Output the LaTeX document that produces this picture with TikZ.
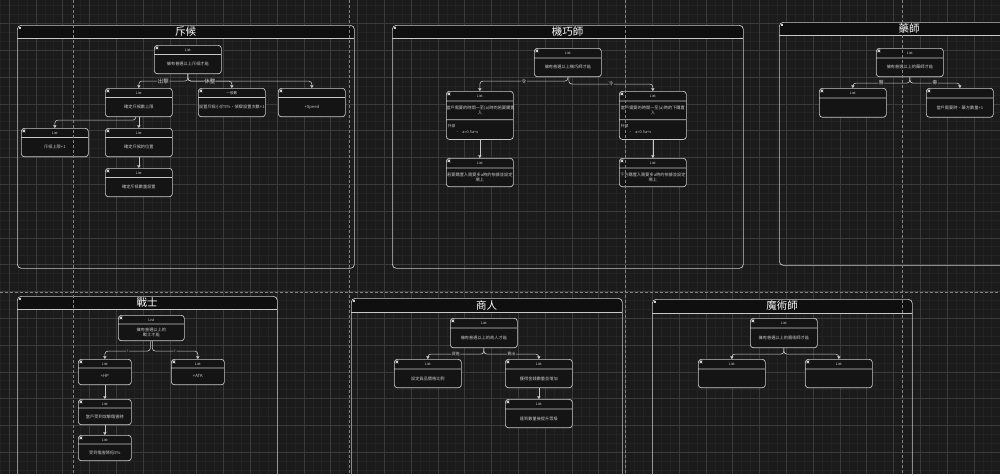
\documentclass[tikz,border=0pt]{standalone}
\usepackage{fontspec}
\setmainfont{Noto Sans CJK TC}
\usetikzlibrary{arrows.meta, positioning, shapes.multipart, calc}

\definecolor{bgc}{RGB}{27,27,27}
\definecolor{gridmaj}{RGB}{58,58,58}
\definecolor{gridmin}{RGB}{35,35,35}
\definecolor{boxbg}{RGB}{20,20,20}
\definecolor{titlebg}{RGB}{15,15,15}
\definecolor{linec}{RGB}{200,200,200}
\definecolor{dashc}{RGB}{130,130,130}

\newcommand{\boxhead}[2][8.5pt]{\parbox[c][#1][c]{\hsize}{\centering\fontsize{3.6}{4}\selectfont #2}}
\newcommand{\boxbody}[2][18.5pt]{\parbox[c][#1][c]{\hsize}{\centering\fontsize{4.2}{5.4}\selectfont #2}}

\begin{document}
\begin{tikzpicture}[x=1pt, y=-1pt,
    outline/.style={draw=linec, line width=0.7pt},
    panel/.style={outline, rounded corners=4pt, inner sep=0, anchor=north west},
    ptitle/.style={text=white, font=\fontsize{10.5}{10.5}\selectfont},
    icon/.style={fill=linec!85},
    box/.style={rectangle split, rectangle split parts=2, outline, fill=boxbg,
        rounded corners=3pt, inner sep=0, text width=67pt, align=center,
        text=linec, anchor=north west,
        path picture={\fill[icon] ([shift={(1.2pt,-1.2pt)}]path picture bounding box.north west) rectangle ++(2.6pt,-2.6pt);}},
    flow/.style={draw=linec, line width=0.6pt, rounded corners=3pt,
        -{Triangle[width=3.2pt,length=2.6pt]}},
    lbl/.style={fill=bgc, inner sep=0.6pt, text=linec, font=\fontsize{5.5}{5.5}\selectfont}
]
    \useasboundingbox (0,0) rectangle (1000,474);
    \clip (0,0) rectangle (1000,474);
    \fill[bgc] (0,0) rectangle (1000,474);

    % grid
    \foreach \i in {0,...,112} \draw[gridmin, line width=0.4pt] ({0.1+8.933*\i},0) -- ({0.1+8.933*\i},474);
    \foreach \i in {0,...,54} \draw[gridmin, line width=0.4pt] (0,{5.5+8.933*\i}) -- (1000,{5.5+8.933*\i});
    \foreach \i in {0,...,37} \draw[gridmaj, line width=0.5pt] ({9+26.8*\i},0) -- ({9+26.8*\i},474);
    \foreach \i in {0,...,18} \draw[gridmaj, line width=0.5pt] (0,{-3.4+26.8*\i}) -- (1000,{-3.4+26.8*\i});

    % 斥候
    \begin{scope}[shift={(17,25)}]
        \fill[titlebg] (0,13) [rounded corners=4pt] |- (168,0) -| (337,13) [sharp corners] -- cycle;
        \node[panel, minimum width=337pt, minimum height=243pt] (scout) at (0,0) {};
        \draw[outline] (0,13) -- (337,13);
        \node[ptitle] (scoutT) at (168.5,6.5) {斥候};
        \fill[icon] (1.5,1.5) rectangle ++(2.6,2.6);

        \node[box] (s0) at (137,20) {\boxhead{List}\nodepart{two}\boxbody{擁有普通以上斥候才能}};
        \node[box] (s1) at (88,63) {\boxhead{List}\nodepart{two}\boxbody{確定斥候數上限}};
        \node[box] (s2) at (181,63) {\boxhead{一般數}\nodepart{two}\boxbody{設置斥候小於5\%，偵察設置次數+1}};
        \node[box] (s3) at (261,63) {\boxhead{}\nodepart{two}\boxbody{+Speed}};
        \node[box] (s4) at (4,103) {\boxhead{List}\nodepart{two}\boxbody{斥候上限+1}};
        \node[box] (s5) at (88,103) {\boxhead{List}\nodepart{two}\boxbody{確定斥候的位置}};
        \node[box] (s6) at (88,143) {\boxhead{List}\nodepart{two}\boxbody{確定斥候數量設置}};
    \end{scope}
    \draw[flow] (s0.south) -- ++(0,7) -| node[lbl, pos=0.25] {出擊} (s1.north);
    \draw[flow] (s0.south) -- ++(0,7) -| node[lbl, pos=0.25] {休整} (s2.north);
    \draw[flow] (s0.south) -- ++(0,7) -| (s3.north);
    \draw[flow] ([xshift=-3pt]s1.south) -- ++(0,3) -| (s4.north);
    \draw[flow] (s1.south) -- (s5.north);
    \draw[flow] (s5.south) -- (s6.north);

    % 機巧師
    \begin{scope}[shift={(392,25)}]
        \fill[titlebg] (0,13) [rounded corners=4pt] |- (175,0) -| (351,13) [sharp corners] -- cycle;
        \node[panel, minimum width=351pt, minimum height=243pt] (mech) at (0,0) {};
        \draw[outline] (0,13) -- (351,13);
        \node[ptitle] (mechT) at (175.5,6.5) {機巧師};
        \fill[icon] (1.5,1.5) rectangle ++(2.6,2.6);

        \node[box] (m0) at (142,23) {\boxhead[9pt]{List}\nodepart{two}\boxbody[18pt]{擁有普通以上機巧師才能}};
        \node[box, rectangle split parts=3] (m1) at (54,66) {\boxhead[9pt]{List}\nodepart{two}\boxbody[18pt]{當戶需要的時間一至(a)時的若要購置\\入}%
            \nodepart{three}\parbox[c][19pt][c]{\hsize}{\raggedright\fontsize{3.8}{6}\selectfont\hspace*{1.5pt}外部\\\hspace*{9pt}\textbullet\ a=0.5a+x\\[1pt]}};
        \node[box, rectangle split parts=3] (m2) at (227,66) {\boxhead[9pt]{List}\nodepart{two}\boxbody[18pt]{當戶需要的時間一至(a)時的下購置\\入}%
            \nodepart{three}\parbox[c][19pt][c]{\hsize}{\raggedright\fontsize{3.8}{6}\selectfont\hspace*{1.5pt}外部\\\hspace*{9pt}\textbullet\ a=0.5a+x\\[1pt]}};
        \node[box] (m3) at (54,133) {\boxhead[9pt]{List}\nodepart{two}\boxbody[18pt]{若要購置入需要多a時的依據並設定\\場上}};
        \node[box] (m4) at (227,133) {\boxhead[9pt]{List}\nodepart{two}\boxbody[18pt]{下方購置入需要多a時的依據並設定\\場上}};
    \end{scope}
    \draw[flow] (m0.south) -- ++(0,4) -| node[lbl, pos=0.25, font=\fontsize{5}{5}\selectfont] {令} (m1.north);
    \draw[flow] ([xshift=1pt]m0.south) -- ++(0,7) -| node[lbl, pos=0.25, font=\fontsize{5}{5}\selectfont] {冷} (m2.north);
    \draw[flow] (m1.south) -- (m3.north);
    \draw[flow] (m2.south) -- (m4.north);

    % 藥師
    \begin{scope}[shift={(779,22)}]
        \fill[titlebg] (0,13) [rounded corners=4pt] |- (130,0) -| (260,13) [sharp corners] -- cycle;
        \node[panel, minimum width=260pt, minimum height=243pt] (pharm) at (0,0) {};
        \draw[outline] (0,13) -- (260,13);
        \node[ptitle] (pharmT) at (130,6.5) {藥師};
        \fill[icon] (1.5,1.5) rectangle ++(2.6,2.6);

        \node[box] (p0) at (97,26) {\boxhead[9pt]{List}\nodepart{two}\boxbody[18pt]{擁有普通以上的藥師才能}};
        \node[box] (p1) at (40,66) {\boxhead[9pt]{List}\nodepart{two}\boxbody[18.5pt]{}};
        \node[box] (p2) at (147,66) {\boxhead[9pt]{}\nodepart{two}\boxbody[18.5pt]{當戶需要時，藥方數量+1}};
    \end{scope}
    \draw[flow] (p0.south) -- ++(0,6) -| node[lbl, pos=0.25, font=\fontsize{5}{5}\selectfont] {醫} (p1.north);
    \draw[flow] (p0.south) -- ++(0,6) -| node[lbl, pos=0.25, font=\fontsize{5}{5}\selectfont] {毒} (p2.north);

    % 戰士
    \begin{scope}[shift={(17,296)}]
        \fill[titlebg] (0,13) [rounded corners=4pt] |- (130,0) -| (260,13) [sharp corners] -- cycle;
        \node[panel, minimum width=260pt, minimum height=250pt] (war) at (0,0) {};
        \draw[outline] (0,13) -- (260,13);
        \node[ptitle] (warT) at (130,6.5) {戰士};
        \fill[icon] (1.5,1.5) rectangle ++(2.6,2.6);

        \node[box, text width=66pt] (w0) at (101,19) {\boxhead[8pt]{List}\nodepart{two}\boxbody[16pt]{擁有普通以上的\\戰士才能}};
        \node[box, text width=53pt] (w1) at (61,63) {\boxhead[8pt]{List}\nodepart{two}\boxbody[16pt]{+HP}};
        \node[box, text width=53pt] (w2) at (154,63) {\boxhead[8pt]{List}\nodepart{two}\boxbody[16pt]{+ATK}};
        \node[box, text width=53pt] (w3) at (61,103) {\boxhead[8pt]{List}\nodepart{two}\boxbody[16pt]{當戶受到攻擊傷害時}};
        \node[box, text width=53pt] (w4) at (61,139) {\boxhead[8pt]{List}\nodepart{two}\boxbody[16pt]{受到傷害降低5\%}};
    \end{scope}
    \draw[flow] ([xshift=-1pt]w0.south) -- ++(0,10) -| node[lbl, pos=0.25, font=\fontsize{3}{3}\selectfont] {T} (w1.north);
    \draw[flow] ([xshift=1pt]w0.south) -- ++(0,10) -| node[lbl, pos=0.25, font=\fontsize{3}{3}\selectfont] {T} (w2.north);
    \draw[flow] (w1.south) -- (w3.north);
    \draw[flow] (w3.south) -- (w4.north);

    % 商人
    \begin{scope}[shift={(351,298)}]
        \fill[titlebg] (0,14) [rounded corners=4pt] |- (135,0) -| (271,14) [sharp corners] -- cycle;
        \node[panel, minimum width=271pt, minimum height=250pt] (merch) at (0,0) {};
        \draw[outline] (0,14) -- (271,14);
        \node[ptitle] (merchT) at (135.5,7) {商人};
        \fill[icon] (1.5,1.5) rectangle ++(2.6,2.6);

        \node[box] (c0) at (99,20) {\boxhead[9pt]{List}\nodepart{two}\boxbody[19pt]{擁有普通以上的商人才能}};
        \node[box] (c1) at (43,61) {\boxhead[9pt]{List}\nodepart{two}\boxbody[18pt]{設定貨品價格比例}};
        \node[box] (c2) at (154,61) {\boxhead[9pt]{List}\nodepart{two}\boxbody[18pt]{獲得金錢數量並增加}};
        \node[box] (c3) at (154,101) {\boxhead[9pt]{List}\nodepart{two}\boxbody[18pt]{達到數量後提升等級}};
    \end{scope}
    \draw[flow] (c0.south) -- ++(0,6) -| node[lbl, pos=0.25, font=\fontsize{4}{4}\selectfont] {買進} (c1.north);
    \draw[flow] (c0.south) -- ++(0,6) -| node[lbl, pos=0.25, font=\fontsize{4}{4}\selectfont] {賣出} (c2.north);
    \draw[flow] (c2.south) -- (c3.north);

    % 魔術師
    \begin{scope}[shift={(652,299)}]
        \fill[titlebg] (0,14) [rounded corners=4pt] |- (130,0) -| (260,14) [sharp corners] -- cycle;
        \node[panel, minimum width=260pt, minimum height=250pt] (mage) at (0,0) {};
        \draw[outline] (0,14) -- (260,14);
        \node[ptitle] (mageT) at (130,7) {魔術師};
        \fill[icon] (1.5,1.5) rectangle ++(2.6,2.6);

        \node[box] (g0) at (98,19) {\boxhead[9pt]{List}\nodepart{two}\boxbody[19pt]{擁有普通以上的魔術師才能}};
        \node[box] (g1) at (46,60) {\boxhead[9pt]{List}\nodepart{two}\boxbody[18pt]{}};
        \node[box] (g2) at (153,60) {\boxhead[9pt]{List}\nodepart{two}\boxbody[18pt]{}};
    \end{scope}
    \draw[flow] (g0.south) -- ++(0,6) -| (g1.north);
    \draw[flow] (g0.south) -- ++(0,6) -| (g2.north);

    % page breaks
    \foreach \x in {73,349,625,902} \draw[dashc, line width=0.6pt, dash pattern=on 3pt off 2pt] (\x,0) -- (\x,474);
    \draw[dashc, line width=0.6pt, dash pattern=on 3pt off 2pt] (0,292) -- (1000,292);
\end{tikzpicture}
\end{document}
